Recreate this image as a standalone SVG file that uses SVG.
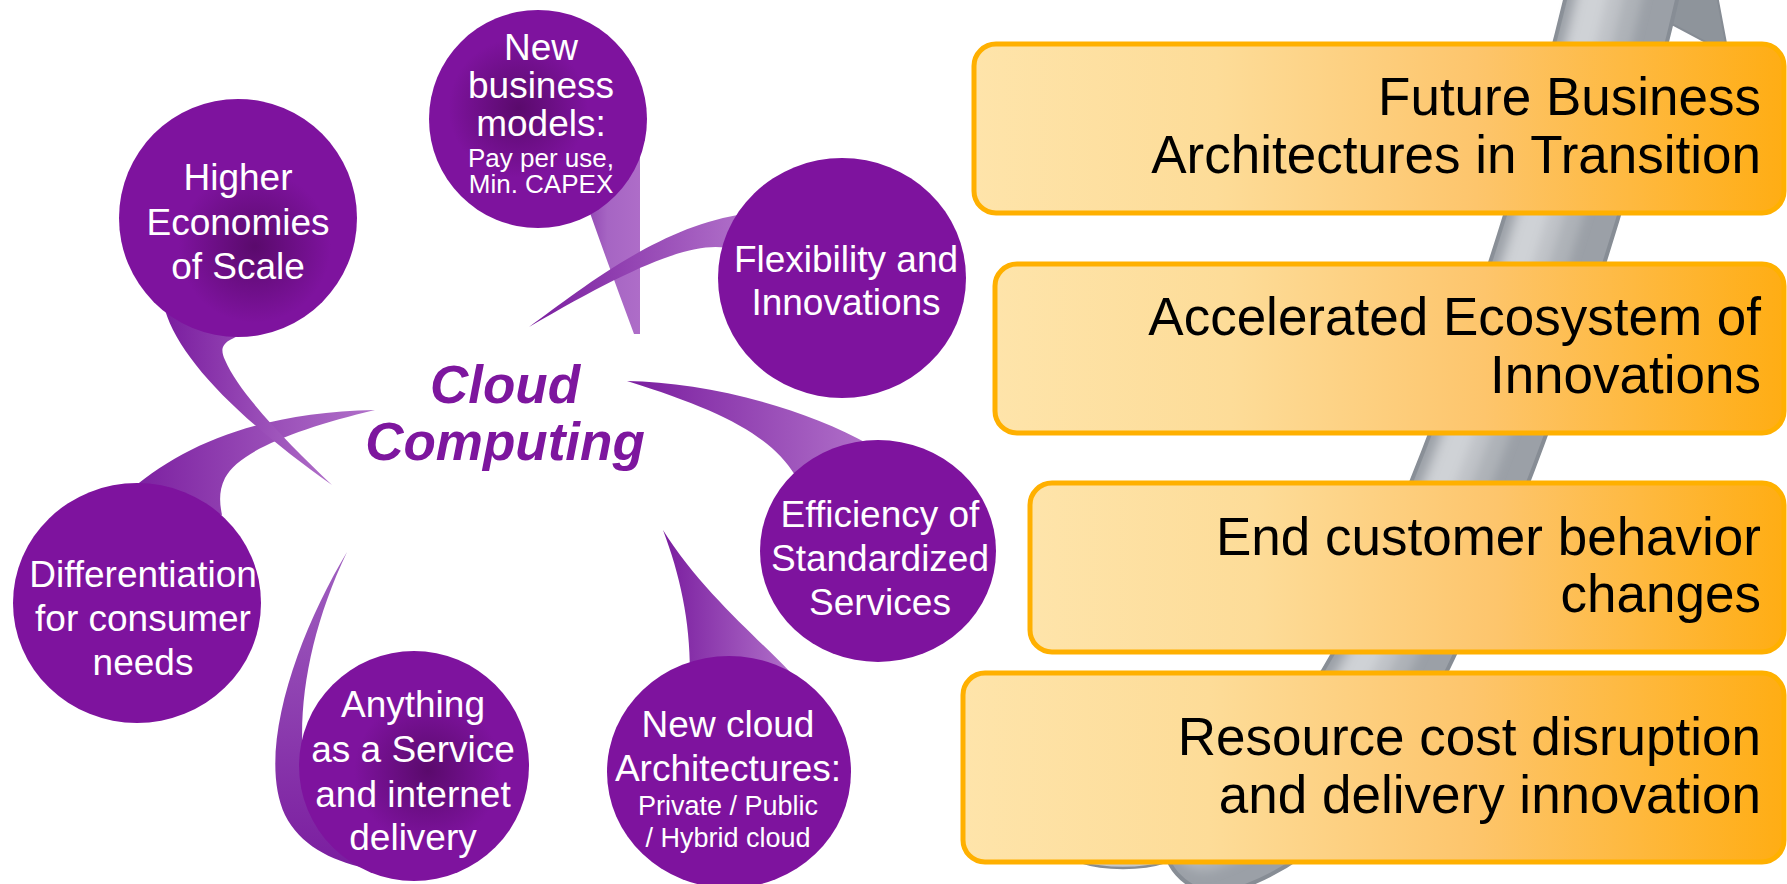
<svg xmlns="http://www.w3.org/2000/svg" width="1787" height="884" viewBox="0 0 1787 884">
<defs>
<style>
.bub{fill:#7E139E}
.bt{font-family:"Liberation Sans",Arial,sans-serif;font-size:37px;fill:#ffffff;text-anchor:middle}
.bs{font-size:26px}
.box{stroke:#FFB000;stroke-width:5;fill:url(#boxG)}
.xt{font-family:"Liberation Sans",Arial,sans-serif;font-size:53px;fill:#000000;text-anchor:end}
.cc{font-family:"Liberation Sans",Arial,sans-serif;font-size:53px;font-weight:bold;font-style:italic;fill:#7D169E;text-anchor:middle}
.band{fill:none;stroke-linecap:round}
</style>
<linearGradient id="boxG" x1="0" y1="0" x2="1" y2="0">
<stop offset="0" stop-color="#FEE4AA"/>
<stop offset="0.3" stop-color="#FDDC98"/>
<stop offset="0.62" stop-color="#FDC56C"/>
<stop offset="1" stop-color="#FFAD14"/>
</linearGradient>
<linearGradient id="tailG" x1="0" y1="0" x2="1" y2="0">
<stop offset="0" stop-color="#7A1D9F"/>
<stop offset="1" stop-color="#B070C9"/>
</linearGradient>
<linearGradient id="tailNB" x1="0" y1="0" x2="1" y2="0">
<stop offset="0" stop-color="#8535A9"/>
<stop offset="0.5" stop-color="#A665C3"/>
<stop offset="1" stop-color="#AE6DC8"/>
</linearGradient>
<linearGradient id="tailV" x1="0" y1="1" x2="0" y2="0">
<stop offset="0" stop-color="#7A1D9F"/>
<stop offset="1" stop-color="#A060C0"/>
</linearGradient>
<radialGradient id="spotNB" cx="0.41" cy="0.45" r="0.32">
<stop offset="0" stop-color="#5A0A6C"/>
<stop offset="1" stop-color="#7E139E"/>
</radialGradient>
<radialGradient id="spotH" cx="0.57" cy="0.62" r="0.32">
<stop offset="0" stop-color="#5A0A6C"/>
<stop offset="1" stop-color="#7E139E"/>
</radialGradient>
<radialGradient id="spotA" cx="0.56" cy="0.52" r="0.32">
<stop offset="0" stop-color="#5A0A6C"/>
<stop offset="1" stop-color="#7E139E"/>
</radialGradient>
<filter id="soft" x="-20%" y="-20%" width="140%" height="140%">
<feGaussianBlur stdDeviation="5"/>
</filter>
</defs>

<g id="gray-arrow">
<ellipse cx="1123" cy="848" rx="60" ry="20" fill="#C5C8CC" stroke="#868C94" stroke-width="2.5"/>
<polygon points="1640,-10 1666,21 1728,54 1716,-10" fill="#8E949B" stroke="#868C94" stroke-width="2"/>
<path class="band" d="M1630,-40 C1600,100 1520,380 1420,600 C1390,666 1330,800 1218,838" stroke="#878D95" stroke-width="113"/>
<path class="band" d="M1630,-40 C1600,100 1520,380 1420,600 C1390,666 1330,800 1218,838" stroke="#9BA0A7" stroke-width="105"/>
<g filter="url(#soft)">
<path class="band" transform="translate(-14,0)" d="M1630,-40 C1600,100 1520,380 1420,600 C1390,666 1330,800 1218,838" stroke="#AEB2B8" stroke-width="68"/>
<path class="band" transform="translate(-22,0)" d="M1630,-40 C1600,100 1520,380 1420,600 C1390,666 1330,800 1218,838" stroke="#C0C3C8" stroke-width="46"/>
<path class="band" transform="translate(-28,0)" d="M1630,-40 C1600,100 1520,380 1420,600 C1390,666 1330,800 1218,838" stroke="#CFD2D6" stroke-width="26"/>
</g>
</g>

<g id="connectors">
<path id="tail-newbusiness" d="M575,195 L590,213 Q612,275 634,334 L640,334 L640,150 Z" fill="url(#tailNB)"/>
<path id="tail-flexibility" d="M529,327 C580,290 660,225 745,214 L735,250 C700,238 640,262 529,327 Z" fill="url(#tailG)"/>
<path id="tail-efficiency" d="M627,381 C700,382 800,405 870,445 L795,475 C770,435 720,410 627,381 Z" fill="url(#tailG)"/>
<path id="tail-newcloud" d="M663,530 C680,575 690,620 690,672 L790,672 C760,640 700,590 663,530 Z" fill="url(#tailG)"/>
<path id="tail-anything" d="M347,552 C300,630 255,750 285,815 C300,845 330,860 365,868 L310,800 C292,730 305,640 347,552 Z" fill="url(#tailV)"/>
<path id="tail-differentiation" d="M125,495 C180,445 260,412 375,410 C300,428 240,450 225,478 C218,492 220,505 222,515 Z" fill="url(#tailG)"/>
<path id="tail-higher" d="M165,310 C180,360 240,420 332,485 C290,445 240,395 225,360 C218,345 225,340 250,332 Z" fill="url(#tailG)"/>
</g>

<g id="node-newbusiness">
<ellipse cx="538" cy="119" rx="109" ry="109" fill="url(#spotNB)"/>
<text class="bt" x="541" y="60">New</text>
<text class="bt" x="541" y="98">business</text>
<text class="bt" x="541" y="136">models:</text>
<text class="bt bs" x="541" y="167">Pay per use,</text>
<text class="bt bs" x="541" y="193">Min. CAPEX</text>
</g>

<g id="node-higher">
<ellipse cx="238" cy="218" rx="119" ry="119" fill="url(#spotH)"/>
<text class="bt" x="238" y="190">Higher</text>
<text class="bt" x="238" y="235">Economies</text>
<text class="bt" x="238" y="279">of Scale</text>
</g>

<g id="node-flexibility">
<ellipse class="bub" cx="842" cy="278" rx="124" ry="120"/>
<text class="bt" x="846" y="272">Flexibility and</text>
<text class="bt" x="846" y="315">Innovations</text>
</g>

<g id="node-efficiency">
<ellipse class="bub" cx="878" cy="551" rx="118" ry="111"/>
<text class="bt" x="880" y="527">Efficiency of</text>
<text class="bt" x="880" y="571">Standardized</text>
<text class="bt" x="880" y="615">Services</text>
</g>

<g id="node-newcloud">
<ellipse class="bub" cx="729" cy="772" rx="122" ry="116"/>
<text class="bt" x="728" y="737">New cloud</text>
<text class="bt" x="728" y="781">Architectures:</text>
<text class="bt" x="728" y="815" style="font-size:27px">Private / Public</text>
<text class="bt" x="728" y="847" style="font-size:27px">/ Hybrid cloud</text>
</g>

<g id="node-anything">
<ellipse cx="414" cy="766" rx="115" ry="115" fill="url(#spotA)"/>
<text class="bt" x="413" y="717">Anything</text>
<text class="bt" x="413" y="762">as a Service</text>
<text class="bt" x="413" y="807">and internet</text>
<text class="bt" x="413" y="850">delivery</text>
</g>

<g id="node-differentiation">
<ellipse class="bub" cx="137" cy="603" rx="124" ry="120"/>
<text class="bt" x="143" y="587">Differentiation</text>
<text class="bt" x="143" y="631">for consumer</text>
<text class="bt" x="143" y="675">needs</text>
</g>

<g id="node-cloud">
<text class="cc" x="505" y="403">Cloud</text>
<text class="cc" x="505" y="460">Computing</text>
</g>

<g id="box-future">
<rect class="box" x="974" y="44" width="810" height="169" rx="22"/>
<text class="xt" x="1761" y="115">Future Business</text>
<text class="xt" x="1761" y="173">Architectures in Transition</text>
</g>

<g id="box-ecosystem">
<rect class="box" x="995" y="264" width="789" height="169" rx="22"/>
<text class="xt" x="1761" y="335">Accelerated Ecosystem of</text>
<text class="xt" x="1761" y="393">Innovations</text>
</g>

<g id="box-customer">
<rect class="box" x="1030" y="483" width="754" height="169" rx="22"/>
<text class="xt" x="1761" y="555">End customer behavior</text>
<text class="xt" x="1761" y="612">changes</text>
</g>

<g id="box-resource">
<rect class="box" x="963" y="673" width="821" height="189" rx="22"/>
<text class="xt" x="1761" y="755">Resource cost disruption</text>
<text class="xt" x="1761" y="813">and delivery innovation</text>
</g>
</svg>
